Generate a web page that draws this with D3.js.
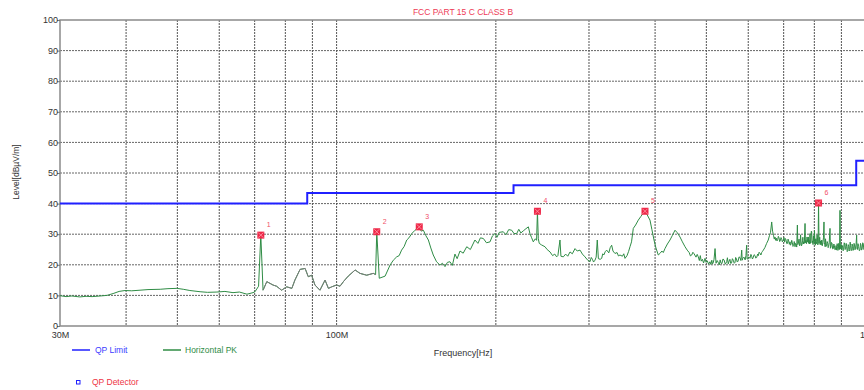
<!DOCTYPE html>
<html>
<head>
<meta charset="utf-8">
<script src="https://cdn.jsdelivr.net/npm/d3@7"></script>
<style>
  html, body { margin: 0; padding: 0; background: #fff; }
  svg { display: block; font-family: "Liberation Sans", Arial, sans-serif; }
</style>
</head>
<body>
<svg id="chart" width="864" height="390"></svg>
<script>
// ---- data ----
const chartTitle = "FCC PART 15 C CLASS B";
const yTicks = [0, 10, 20, 30, 40, 50, 60, 70, 80, 90, 100];
const xGridFreqs = [40, 50, 60, 70, 80, 90, 100, 200, 300, 400, 500, 600, 700, 800, 900];
const xTickFreqs = [30, 100, 1000];
const xTickLabels = ["30M", "100M", "1G"];

// QP limit: level starts at each edge frequency (MHz)
const limitFreq = [30, 88, 216, 960, 1000];
const limitLevel = [40, 43.5, 46, 54, 54];

// Horizontal peak scan: [frequency MHz, level dBµV/m]
const horizontalPK = [
  [30.0, 9.9], [30.8, 9.6], [31.6, 9.8], [32.7, 9.5], [33.6, 9.7], [34.5, 9.6], [35.7, 9.8],
  [36.8, 10.0], [37.8, 10.6], [38.8, 11.3], [39.8, 11.6], [41.0, 11.5], [42.5, 11.7], [44.0, 11.9],
  [46.4, 12.0], [48.0, 12.2], [49.9, 12.3], [51.3, 12.0], [52.8, 11.6], [55.2, 11.2], [57.0, 11.0],
  [59.4, 11.1], [61.5, 11.3], [63.7, 10.9], [65.5, 11.1], [67.7, 10.4], [69.5, 10.9], [70.1, 11.2],
  [71.2, 13.0], [71.9, 29.7], [72.6, 11.7], [73.8, 14.5], [75.8, 13.4], [77.0, 13.0], [78.7, 11.7],
  [80.5, 12.8], [82.3, 12.3], [83.4, 15.0], [85.3, 18.5], [87.2, 18.8], [88.4, 16.1], [89.7, 16.6],
  [91.0, 13.4], [93.0, 11.7], [95.1, 15.0], [96.5, 12.3], [97.9, 12.8], [100.0, 13.4], [101.5, 13.0],
  [103.0, 14.5], [105.2, 16.3], [108.4, 18.3], [110.7, 17.2], [114.0, 16.6], [117.3, 17.2],
  [118.5, 16.8], [119.1, 30.8], [120.4, 15.6], [123.5, 16.3], [126.2, 19.9], [128.0, 21.5],
  [129.9, 22.6], [131.3, 23.0], [132.7, 24.8], [134.2, 26.0], [135.7, 28.1], [137.0, 28.8],
  [138.7, 30.2], [140.7, 31.3], [143.3, 32.4], [144.5, 31.0], [145.9, 31.3], [147.5, 29.5],
  [149.1, 28.1], [150.7, 25.5], [152.3, 23.2], [154.5, 21.0], [156.8, 19.9], [158.5, 20.5],
  [160.3, 19.4], [162.0, 20.8], [163.8, 21.0], [165.5, 19.8], [167.4, 23.5], [169.0, 22.0],
  [171.1, 24.5], [173.5, 23.8], [176.2, 25.9], [179.0, 25.0], [182.6, 28.1], [185.0, 27.0],
  [187.0, 28.8], [189.4, 28.6], [192.0, 27.2], [195.0, 27.5], [197.0, 29.4], [199.2, 30.2],
  [201.0, 29.0], [203.0, 30.6], [206.6, 30.8], [209.0, 29.8], [211.5, 31.5], [214.3, 31.3],
  [216.5, 30.2], [219.0, 30.2], [221.0, 31.6], [223.0, 30.4], [225.4, 31.1], [228.0, 31.8],
  [230.4, 32.4], [232.0, 30.2], [233.5, 29.0], [235.4, 27.5], [237.5, 28.5], [238.8, 28.0],
  [239.7, 37.5], [240.6, 28.5], [241.6, 27.0], [244.0, 26.5], [247.7, 25.9], [250.0, 25.0],
  [253.2, 24.2], [256.0, 23.0], [258.5, 23.5], [260.6, 22.6], [262.0, 23.0], [264.4, 28.1],
  [265.5, 22.8], [268.3, 22.6], [271.0, 23.5], [273.5, 22.8], [276.2, 24.2], [279.0, 23.6],
  [282.3, 25.3], [285.0, 24.5], [288.5, 24.8], [291.5, 23.5], [294.8, 22.6], [298.0, 21.6],
  [301.3, 21.0], [303.0, 22.4], [304.5, 21.8], [306.0, 20.9], [307.9, 21.5], [309.5, 22.5],
  [311.0, 28.1], [312.5, 22.0], [315.0, 21.8], [317.0, 22.1], [318.5, 23.6], [320.0, 23.2],
  [322.0, 24.3], [324.0, 24.8], [327.0, 23.9], [329.0, 25.6], [331.1, 26.4], [333.0, 24.5],
  [335.9, 23.7], [339.0, 24.0], [341.0, 22.9], [343.3, 23.2], [347.0, 22.8], [349.0, 23.6],
  [350.9, 22.1], [354.0, 23.0], [356.5, 24.4], [358.6, 25.9], [361.0, 27.5], [363.8, 31.9],
  [367.5, 33.0], [371.8, 34.6], [376.0, 35.8], [379.5, 36.8], [382.8, 37.5], [386.0, 36.5],
  [391.2, 34.6], [394.5, 31.5], [398.1, 28.1], [401.5, 25.5], [405.6, 23.2], [409.0, 23.8],
  [412.0, 24.5], [414.5, 24.0], [417.6, 25.3], [422.0, 26.8], [426.8, 28.1], [431.0, 29.5],
  [436.2, 31.3], [440.5, 30.5], [445.8, 29.1], [450.5, 27.5], [455.7, 25.9], [460.0, 24.8],
  [464.0, 24.0], [466.5, 22.9], [469.2, 23.2], [471.5, 24.1], [474.0, 23.6], [478.0, 22.5],
  [480.5, 23.4], [482.7, 22.6], [485.0, 21.4], [487.0, 23.0], [489.0, 21.2], [491.5, 21.8],
  [494.0, 20.6], [497.1, 22.1], [499.5, 20.8], [502.0, 21.3], [505.0, 20.2], [507.9, 21.0],
  [510.0, 20.1], [512.0, 21.5], [513.5, 20.3], [515.0, 20.6], [517.0, 21.8], [519.3, 25.3],
  [521.5, 20.5], [524.0, 21.4], [526.8, 20.7], [529.0, 20.0], [531.0, 21.6], [533.0, 20.5],
  [535.0, 20.4], [537.5, 21.9], [540.0, 21.6], [543.0, 20.2], [546.3, 21.0], [548.0, 22.3],
  [550.0, 20.3], [552.0, 21.2], [554.0, 21.8], [556.0, 20.4], [558.0, 20.6], [560.0, 22.0],
  [562.2, 21.5], [564.5, 20.5], [566.5, 20.8], [568.0, 22.4], [570.0, 21.9], [572.0, 20.9],
  [574.0, 21.2], [576.5, 22.6], [579.0, 22.3], [581.0, 21.4], [583.2, 24.8], [584.5, 21.5],
  [586.0, 22.1], [589.0, 22.5], [592.0, 21.6], [594.0, 23.0], [595.8, 26.4], [597.0, 22.0],
  [598.5, 21.8], [601.0, 22.6], [604.5, 22.1], [607.0, 23.4], [609.0, 22.8], [611.0, 21.9],
  [613.0, 22.3], [615.5, 23.3], [618.0, 23.0], [620.0, 22.2], [622.5, 22.4], [625.0, 23.5],
  [627.0, 23.0], [629.0, 24.1], [631.5, 23.8], [634.0, 23.2], [636.0, 24.0], [638.5, 24.4],
  [640.8, 24.8], [645.0, 25.6], [650.0, 27.0], [654.6, 28.1], [658.0, 29.5], [661.0, 30.5],
  [664.5, 34.0], [667.0, 31.0], [670.0, 29.5], [672.0, 28.4], [674.1, 29.1], [676.0, 28.0],
  [678.0, 28.7], [680.0, 27.8], [682.0, 28.2], [684.0, 29.3], [686.0, 28.8], [688.0, 27.6],
  [690.0, 27.9], [692.0, 28.9], [694.2, 28.3], [696.0, 27.5], [698.5, 28.0], [701.0, 28.9],
  [703.0, 27.4], [705.0, 28.6], [707.0, 28.2], [709.5, 26.9], [712.0, 27.0], [713.5, 28.4],
  [715.5, 27.8], [717.5, 26.7], [719.7, 27.5], [721.0, 26.4], [723.0, 26.8], [725.0, 28.0],
  [727.0, 27.2], [729.0, 26.0], [731.0, 26.3], [733.0, 27.6], [735.6, 25.9], [737.0, 27.0],
  [739.0, 26.8], [741.0, 25.8], [743.1, 33.0], [744.5, 26.6], [746.0, 27.0], [748.5, 28.4],
  [750.0, 26.2], [751.8, 26.4], [753.5, 29.8], [755.0, 27.5], [756.5, 26.2], [758.0, 26.6],
  [760.0, 28.0], [761.0, 29.0], [762.5, 26.8], [764.0, 27.5], [766.0, 27.0], [768.3, 33.5],
  [769.5, 27.2], [771.0, 28.0], [773.0, 26.9], [775.0, 29.1], [777.0, 27.4], [779.4, 29.1],
  [780.5, 27.0], [782.0, 28.0], [783.5, 26.8], [785.0, 30.2], [786.5, 27.0], [788.0, 27.6],
  [789.5, 31.0], [790.8, 30.8], [792.5, 27.2], [794.0, 27.8], [795.5, 26.6], [797.0, 29.5],
  [799.0, 27.3], [800.5, 31.2], [802.2, 27.0], [803.5, 26.4], [805.0, 28.5], [806.5, 26.8],
  [808.0, 27.6], [809.5, 29.8], [811.0, 28.8], [812.2, 26.5], [813.4, 27.5], [814.8, 40.2],
  [816.5, 27.0], [817.8, 28.2], [819.0, 29.0], [820.5, 26.6], [822.0, 27.8], [824.0, 26.5],
  [826.2, 28.1], [828.0, 26.2], [830.0, 27.2], [832.5, 28.8], [834.3, 34.0], [835.5, 26.8],
  [837.0, 27.0], [838.5, 25.9], [840.0, 28.5], [842.0, 26.0], [844.2, 26.4], [846.0, 27.6],
  [848.0, 27.0], [849.5, 25.6], [851.0, 26.0], [853.5, 27.2], [856.5, 31.9], [858.0, 25.4],
  [860.0, 25.8], [862.0, 27.3], [864.0, 27.0], [866.5, 25.2], [868.8, 25.3], [871.0, 26.8],
  [873.0, 26.2], [875.0, 24.9], [877.0, 25.0], [879.5, 26.3], [881.7, 24.8], [883.5, 26.9],
  [885.0, 26.0], [886.5, 24.7], [888.0, 25.0], [889.5, 27.0], [891.0, 26.5], [892.8, 25.0],
  [894.6, 37.8], [896.0, 25.4], [897.0, 25.2], [899.0, 26.7], [901.2, 24.8], [903.0, 25.6],
  [905.0, 26.3], [907.0, 24.6], [909.0, 25.0], [911.0, 27.2], [913.0, 26.8], [915.0, 25.0],
  [917.0, 25.4], [919.0, 27.0], [921.0, 25.9], [923.0, 24.3], [925.0, 24.6], [927.0, 26.6],
  [929.0, 26.0], [931.0, 24.5], [933.0, 25.0], [935.0, 27.4], [937.0, 26.2], [939.0, 24.6],
  [941.4, 24.8], [943.0, 26.8], [945.0, 26.0], [947.0, 24.7], [949.0, 25.2], [951.0, 27.0],
  [953.0, 26.5], [955.0, 24.9], [957.0, 25.5], [959.5, 26.8], [961.8, 29.7], [963.0, 25.3],
  [965.0, 25.0], [967.5, 26.9], [970.0, 26.0], [973.0, 24.6], [975.9, 24.8], [978.0, 27.0],
  [980.0, 26.5], [982.5, 24.8], [985.0, 25.2], [987.5, 27.2], [990.0, 26.8], [992.5, 25.0],
  [995.0, 25.5], [997.5, 27.0], [1000.0, 26.0]
];
// stretch of the scan drawn in the muted colour
const mutedFrom = 72.6, mutedTo = 118.5;

// QP detector readings
const markerFreq = [71.9, 119.1, 143.3, 239.7, 382.8, 814.8];
const markerLevel = [29.7, 30.8, 32.4, 37.5, 37.5, 40.2];
const markerLabels = ["1", "2", "3", "4", "5", "6"];

// ---- drawing ----
const svg = d3.select("#chart");
const plot = { left: 60, top: 20, right: 865.6, bottom: 326 };

const x = d3.scaleLog().domain([30, 1000]).range([plot.left, plot.right]);
const y = d3.scaleLinear().domain([0, 100]).range([plot.bottom, plot.top]);

// grid
const grid = svg.append("g");
grid.selectAll("line.h").data(yTicks.filter(v => v > 0 && v < 100)).join("line")
  .attr("x1", plot.left).attr("x2", plot.right)
  .attr("y1", d => y(d)).attr("y2", d => y(d))
  .attr("stroke", "#666").attr("stroke-width", 1).attr("stroke-dasharray", "2,1");
grid.selectAll("line.v").data(xGridFreqs).join("line")
  .attr("x1", d => x(d)).attr("x2", d => x(d))
  .attr("y1", plot.top).attr("y2", plot.bottom)
  .attr("stroke", "#555").attr("stroke-width", 1).attr("stroke-dasharray", "2,1");

// frame
svg.append("rect")
  .attr("x", plot.left).attr("y", plot.top)
  .attr("width", plot.right - plot.left).attr("height", plot.bottom - plot.top)
  .attr("fill", "none").attr("stroke", "#8a8a8a").attr("stroke-width", 1.5);

// axes
const yAxis = svg.append("g")
  .attr("transform", `translate(${plot.left},0)`)
  .call(d3.axisLeft(y).tickValues(yTicks).tickSize(3).tickFormat(d3.format("d")));
yAxis.select(".domain").remove();
yAxis.selectAll("line").attr("stroke", "#777");
yAxis.selectAll("text").attr("font-size", 9).attr("fill", "#333")
  .attr("x", -2).attr("dy", "0.3em").attr("font-family", "Liberation Sans, Arial, sans-serif");

const xAxis = svg.append("g")
  .attr("transform", `translate(0,${plot.bottom})`)
  .call(d3.axisBottom(x).tickValues(xTickFreqs).tickSize(0)
    .tickFormat((d, i) => xTickLabels[i]));
xAxis.select(".domain").remove();
xAxis.selectAll("text").attr("font-size", 9).attr("fill", "#333").attr("y", 6)
  .attr("font-family", "Liberation Sans, Arial, sans-serif");

// titles
svg.append("text").attr("x", 463).attr("y", 15).attr("text-anchor", "middle")
  .attr("font-size", 8.5).attr("fill", "#ee3a55").text(chartTitle);
svg.append("text").attr("x", 463).attr("y", 356).attr("text-anchor", "middle")
  .attr("font-size", 9).attr("fill", "#333").text("Frequency[Hz]");
svg.append("text").attr("transform", "translate(19,172) rotate(-90)")
  .attr("text-anchor", "middle").attr("font-size", 8.5).attr("fill", "#333")
  .text("Level[dBµV/m]");

// clip to plot area
svg.append("clipPath").attr("id", "plotClip").append("rect")
  .attr("x", plot.left).attr("y", plot.top)
  .attr("width", plot.right - plot.left).attr("height", plot.bottom - plot.top);
const inner = svg.append("g").attr("clip-path", "url(#plotClip)");

// limit line
const limitPts = limitFreq.map((f, i) => [f, limitLevel[i]]);
inner.append("path")
  .datum(limitPts)
  .attr("d", d3.line().x(d => x(d[0])).y(d => y(d[1])).curve(d3.curveStepAfter))
  .attr("fill", "none").attr("stroke", "#2020ff").attr("stroke-width", 2);

// peak scan
const traceLine = d3.line().x(d => x(d[0])).y(d => y(d[1]));
inner.append("path").datum(horizontalPK).attr("d", traceLine)
  .attr("fill", "none").attr("stroke", "#2f8c45").attr("stroke-width", 1);
inner.append("path").datum(horizontalPK.filter(d => d[0] >= mutedFrom && d[0] <= mutedTo))
  .attr("d", traceLine)
  .attr("fill", "none").attr("stroke", "#7c7c7c").attr("stroke-width", 1);

// detector markers
const markers = svg.append("g");
markerFreq.forEach((f, i) => {
  const cx = x(f), cy = y(markerLevel[i]);
  const g = markers.append("g").attr("transform", `translate(${cx},${cy})`);
  g.append("rect").attr("x", -3.5).attr("y", -3.5).attr("width", 7).attr("height", 7)
    .attr("fill", "#ee2848");
  g.append("path").attr("d", "M-2.5,-2.5L2.5,2.5M-2.5,2.5L2.5,-2.5")
    .attr("stroke", "#ff9aaa").attr("stroke-width", 0.8);
  g.append("text").attr("x", 6).attr("y", -8).attr("font-size", 7)
    .attr("fill", "#f05068").text(markerLabels[i]);
});

// legend
const legend = svg.append("g");
legend.append("line").attr("x1", 72).attr("x2", 90).attr("y1", 350).attr("y2", 350)
  .attr("stroke", "#2020ff").attr("stroke-width", 1.5);
legend.append("text").attr("x", 95).attr("y", 353).attr("font-size", 8.5)
  .attr("fill", "#3b3bff").text("QP Limit");
legend.append("line").attr("x1", 163).attr("x2", 181).attr("y1", 350).attr("y2", 350)
  .attr("stroke", "#2f8c45").attr("stroke-width", 1.5);
legend.append("text").attr("x", 185).attr("y", 353).attr("font-size", 8.5)
  .attr("fill", "#2f8c45").text("Horizontal PK");
legend.append("rect").attr("x", 76.5).attr("y", 380.5).attr("width", 3.5).attr("height", 3.5)
  .attr("fill", "none").attr("stroke", "#2020ff").attr("stroke-width", 1);
legend.append("text").attr("x", 92).attr("y", 385).attr("font-size", 8.5)
  .attr("fill", "#ee3344").text("QP Detector");
</script>
</body>
</html>
